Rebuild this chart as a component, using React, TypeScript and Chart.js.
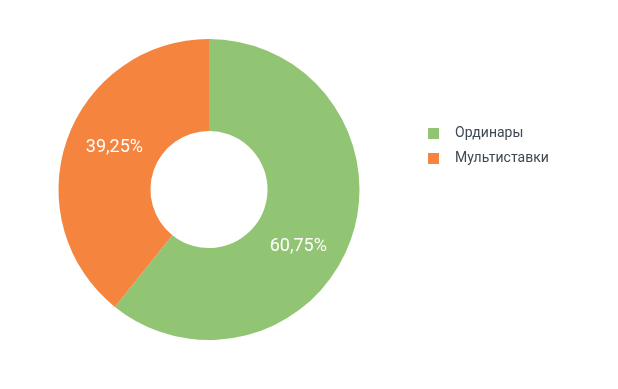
import React, { useEffect, useRef } from "react";
import { Chart, registerables } from "chart.js";

Chart.register(...registerables);

const categories = ["Ординары", "Мультиставки"];
const values = [60.75, 39.25];
const valueLabels = ["60,75%", "39,25%"];
const colors = ["#91C574", "#F5843F"];

const labelPlugin = {
  id: "sliceLabels",
  afterDatasetsDraw(chart: any) {
    const ctx = chart.ctx;
    const meta = chart.getDatasetMeta(0);
    ctx.save();
    ctx.fillStyle = "#ffffff";
    ctx.font = "18px Roboto";
    ctx.textAlign = "center";
    ctx.textBaseline = "middle";
    meta.data.forEach((arc: any, i: number) => {
      const p = arc.getProps(["x", "y", "startAngle", "endAngle", "innerRadius", "outerRadius"], true);
      const a = p.startAngle + 0.55 * (p.endAngle - p.startAngle);
      const r = (p.innerRadius + p.outerRadius) / 2;
      ctx.fillText(valueLabels[i], p.x + Math.cos(a) * r - 1, p.y + Math.sin(a) * r + 4);
    });
    ctx.restore();
  },
};

const legendPlugin = {
  id: "customLegend",
  afterDraw(chart: any) {
    const ctx = chart.ctx;
    const left = chart.chartArea.right + 10;
    const top = 133.5;
    const step = 25;
    ctx.save();
    ctx.font = "14px Roboto";
    ctx.textBaseline = "middle";
    ctx.textAlign = "left";
    categories.forEach((c, i) => {
      const y = top + i * step;
      ctx.fillStyle = colors[i];
      ctx.fillRect(left, y - 5.5, 11, 11);
      ctx.fillStyle = "#3d4852";
      ctx.fillText(c, left + 27, y);
    });
    ctx.restore();
  },
};

export default function App() {
  const ref = useRef<HTMLCanvasElement>(null);
  useEffect(() => {
    if (!ref.current) return;
    const chart = new Chart(ref.current, {
      type: "doughnut",
      data: {
        labels: categories,
        datasets: [
          {
            data: values,
            backgroundColor: colors,
            borderWidth: 0,
          },
        ],
      },
      options: {
        responsive: false,
        animation: false,
        radius: 150.5,
        cutout: "38.9%",
        layout: { padding: { left: 0, top: 0, right: 200, bottom: 10 } },
        plugins: {
          legend: { display: false },
          tooltip: { enabled: false },
        },
      } as any,
      plugins: [labelPlugin, legendPlugin],
    });
    return () => chart.destroy();
  }, []);
  return (
    <div style={{ position: "absolute", left: 0, top: 0, width: 618, height: 389, background: "#fff" }}>
      <canvas ref={ref} width={618} height={389} />
    </div>
  );
}
